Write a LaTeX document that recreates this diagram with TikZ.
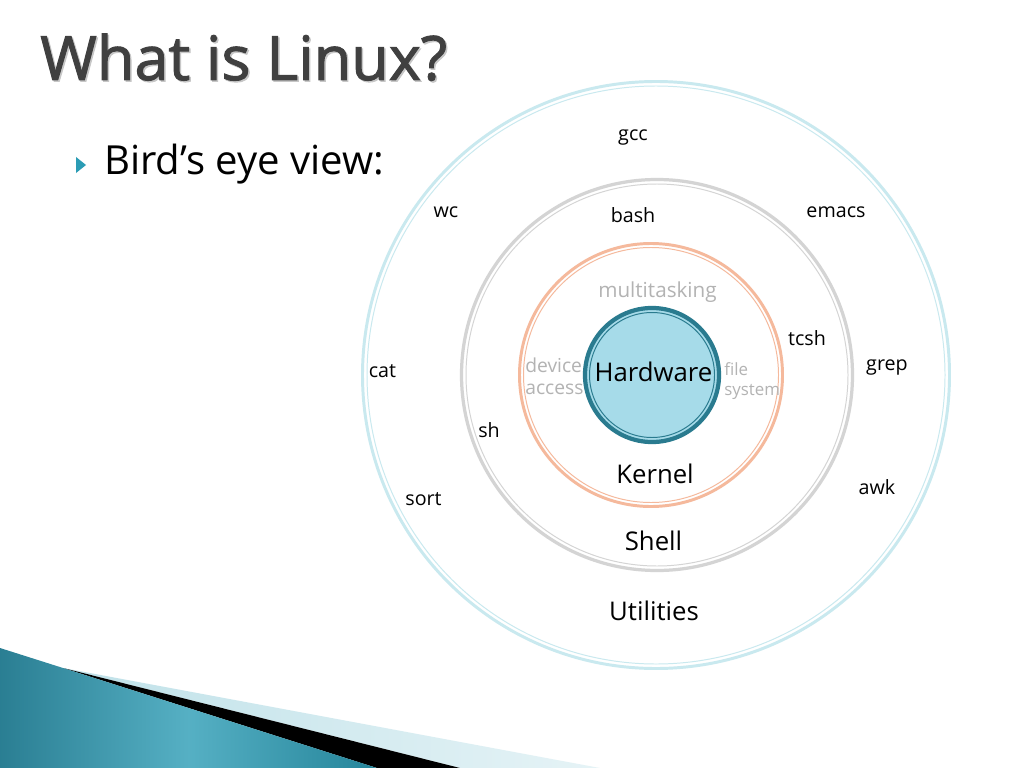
\documentclass[tikz,border=0pt]{standalone}
\usepackage{fontspec}
\setmainfont{Open Sans}
\newfontfamily\titlefont[RawFeature={embolden=1.6}]{Open Sans}

\definecolor{utilring}{HTML}{C9E9EF}
\definecolor{shellring}{HTML}{D4D4D4}
\definecolor{kernelring}{HTML}{F5B99C}
\definecolor{hwfill}{HTML}{A6DBE9}
\definecolor{hwedge}{HTML}{2A7B8F}
\definecolor{greytext}{HTML}{B3B3B3}
\definecolor{titlegrey}{HTML}{404040}
\definecolor{bullet}{HTML}{2B9CB5}

\tikzset{
	lbl/.style={inner sep=0pt, anchor=base, font=\fontsize{14}{16}\selectfont},
	biglbl/.style={inner sep=0pt, anchor=base, font=\fontsize{18.3}{20}\selectfont},
	faint/.style={inner sep=0pt, text=greytext, align=left}
}

\begin{document}
\begin{tikzpicture}[x=0.025cm,y=-0.025cm]
			\useasboundingbox (0,0) rectangle (1024,768);
			\fill[white] (0,0) rectangle (1024,768);
			
			% swoosh, bottom left
			\shade[left color=bullet!30!white, right color=bullet!12!white] (63,668) -- (600,768) -- (460,768) -- cycle;
			\fill[black] (63,668) -- (460,768) -- (377,768) -- cycle;
			\shade[left color=hwedge!90!bullet, right color=bullet!85!black, middle color=bullet!80!white] (0,648) -- (63,668) -- (377,768) -- (0,768) -- cycle;
			
			% title and bullet
			\node[inner sep=0pt, anchor=base west, text=black!22, font=\titlefont\fontsize{43.5}{46}\selectfont] (titleshade) at (41.5,81.5) {What is Linux?};
			\node[inner sep=0pt, anchor=base west, text=titlegrey, font=\titlefont\fontsize{43.5}{46}\selectfont] (title) at (40,80) {What is Linux?};
			\fill[bullet] (76,157) -- (86,165) -- (76,173) -- cycle;
			\node[inner sep=0pt, anchor=base west, font=\fontsize{28.5}{31}\selectfont] (view) at (104,174) {Bird’s eye view:};
			
			% rings
			\draw[utilring, line width=2.1pt] (656,375) circle (293.5);
			\draw[utilring, line width=0.7pt] (656,375) circle (289);
			\draw[shellring, line width=2.3pt] (657,375) circle (195.5);
			\draw[shellring, line width=0.7pt] (657,375) circle (191);
			\draw[kernelring, line width=2.1pt] (651,375) circle (131.5);
			\draw[kernelring, line width=0.7pt] (651,375) circle (127.5);
			\node[circle, fill=hwfill, draw=hwedge, line width=3pt, minimum size=3.35cm] (hw) at (652,375) {};
			\draw[hwedge, line width=0.7pt] (hw.center) circle (62.5);
			
			\begin{scope}[every node/.style={lbl}]
				\node (gcc) at (633,141) {gcc};
				\node (bash) at (633,222) {bash};
				\node (wc) at (446,217) {wc};
				\node (emacs) at (836,217) {emacs};
				\node (tcsh) at (807,345) {tcsh};
				\node (grep) at (887,370) {grep};
				\node (cat) at (382.5,377) {cat};
				\node (sh) at (489,437) {sh};
				\node (awk) at (877,494) {awk};
				\node (sort) at (423.5,505) {sort};
			\end{scope}
			
			\begin{scope}[every node/.style={biglbl}]
				\node (hwlbl) at (653.5,381.7) {Hardware};
				\node (kernel) at (655,483.3) {Kernel};
				\node (shell) at (653.5,550) {Shell};
				\node (utils) at (654,620.7) {Utilities};
			\end{scope}
			
			\node[faint, anchor=base, font=\fontsize{14.7}{16}\selectfont] (multi) at (657.5,297) {multitasking};
			\node[faint, anchor=west, font=\fontsize{13.7}{15.6}\selectfont] (device) at (525,376) {device\\access};
			\node[faint, anchor=west, font=\fontsize{12}{14.2}\selectfont] (filesys) at (724,381) {file\\system};
		\end{tikzpicture}
\end{document}
